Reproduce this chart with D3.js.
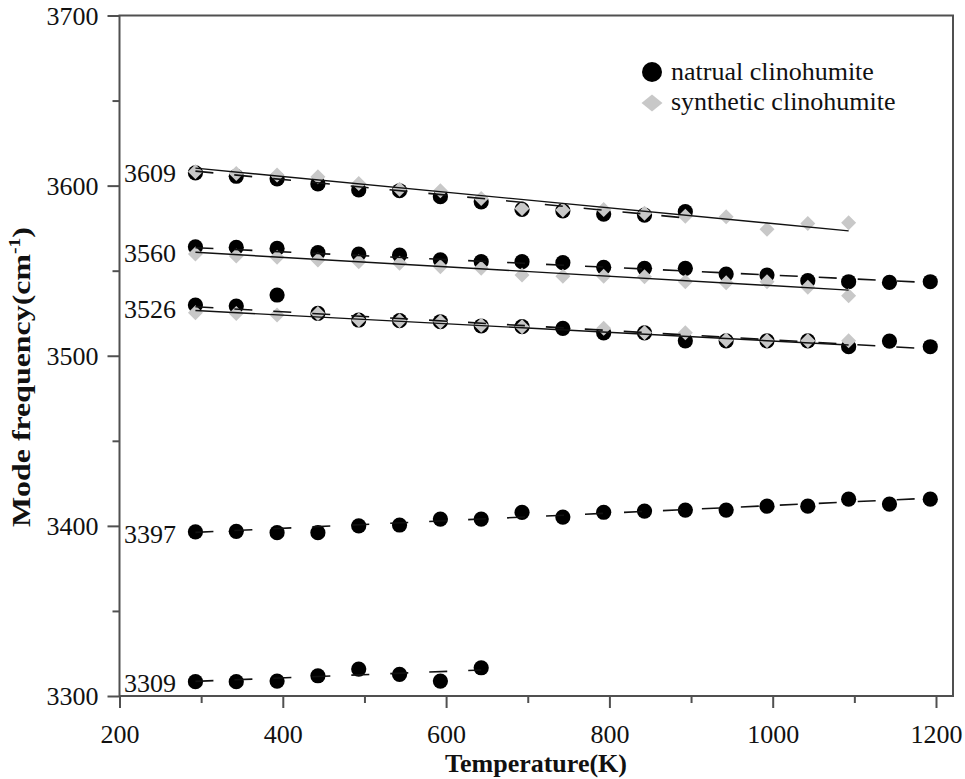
<!DOCTYPE html>
<html>
<head>
<meta charset="utf-8">
<script src="https://cdn.jsdelivr.net/npm/d3@7"></script>
<style>
  body { margin: 0; background: #fff; }
  text { font-family: "Liberation Serif", "Times New Roman", serif; fill: #111; }
</style>
</head>
<body>
<div id="chart"></div>
<script>
// temperatures (K)
const temps = [293, 343, 393, 443, 493, 543, 593, 643, 693, 743, 793, 843, 893, 943, 993, 1043, 1093, 1143, 1193];

// natural clinohumite bands (cm-1)
const nat3609 = [3607.5, 3605.5, 3604, 3601, 3597.5, 3597, 3593.5, 3590.5, 3586, 3585.2, 3583.3, 3582.7, 3584.7];
const nat3560 = [3564, 3563.7, 3563.1, 3560.6, 3559.8, 3559.2, 3556.3, 3555.3, 3555.3, 3554.7, 3552, 3551.4, 3551.4, 3548, 3547.4, 3544.1, 3543.5, 3543.1, 3543.5];
const nat3526 = [3529.8, 3529.2, 3535.7, 3524.9, 3521, 3520.6, 3520, 3517.5, 3517.1, 3516.1, 3513.5, 3513.5, 3508.8, 3508.8, 3508.8, 3508.8, 3505.3, 3508.6, 3505.3];
const nat3397 = [3396.5, 3396.8, 3396, 3396, 3400, 3400.5, 3404, 3404, 3407.9, 3405.2, 3408, 3408.7, 3409.3, 3409.3, 3411.6, 3411.6, 3415.7, 3412.8, 3415.7];
const nat3309 = [3308.4, 3308.4, 3308.8, 3311.9, 3315.8, 3312.7, 3308.8, 3316.6];

// synthetic clinohumite bands (null = no point)
const syn3609 = [3608.2, 3607.2, 3606.2, 3605.2, 3601.3, 3597.8, 3597, 3592.5, 3586.6, 3585.6, 3586, 3583.7, 3582, 3581.7, 3574.3, 3577.8, 3578.2];
const syn3560 = [3559.8, 3558.6, 3557.9, 3556.3, 3555.3, 3554.3, 3552.3, 3551.4, 3547.4, 3546.8, 3546.8, 3546.4, 3543.5, 3542.9, 3543.5, 3540.2, 3535.3];
const syn3526 = [3525.3, 3524.9, 3523.9, 3524.9, 3521, 3520.6, 3520, 3518, 3517.1, null, 3516.1, 3513.5, 3513.5, 3509.2, 3508.8, 3508.8, 3508.8];

// linear fits: [T0, v0, T1, v1]
const natFits = [
  [293, 3608.5, 893, 3581],
  [293, 3563.5, 1193, 3543],
  [293, 3528.8, 1193, 3504],
  [293, 3396.2, 1193, 3416.3],
  [293, 3308.6, 643, 3315.3]
];
const synFits = [
  [293, 3610.3, 1093, 3573.4],
  [293, 3560.8, 1093, 3538.6],
  [293, 3526.6, 1093, 3506.3]
];

// band labels: text and baseline (in cm-1 units)
const bandLabels = ["3609", "3560", "3526", "3397", "3309"];
const bandLabelY = [3602, 3555, 3522.2, 3389.9, 3302.3];

const xTicks = [200, 300, 400, 500, 600, 700, 800, 900, 1000, 1100, 1200];
const yTicks = [3300, 3350, 3400, 3450, 3500, 3550, 3600, 3650, 3700];

const width = 965, height = 779;
const svg = d3.select("#chart").append("svg")
  .attr("width", width)
  .attr("height", height);

const x = d3.scaleLinear().domain([200, 1200]).range([119.5, 936]);
const y = d3.scaleLinear().domain([3300, 3700]).range([696, 15.5]);
const frameRight = 953;
const axisColor = "#505050";

// x axis
const xAxis = svg.append("g")
  .attr("transform", `translate(0,${y(3300)})`)
  .call(d3.axisBottom(x)
    .tickValues(xTicks)
    .tickSize(0)
    .tickFormat(d => d % 200 === 0 ? d : ""));
xAxis.select(".domain").remove();
xAxis.selectAll(".tick").append("line")
  .attr("y1", 0)
  .attr("y2", d => d % 200 === 0 ? 12 : 7)
  .attr("stroke", axisColor)
  .attr("stroke-width", 2);
xAxis.selectAll(".tick text")
  .attr("y", 47)
  .attr("dy", 0)
  .style("font-size", "26px")
  .style("font-family", "Liberation Serif")
  .attr("fill", "#111");

// y axis
const yAxis = svg.append("g")
  .attr("transform", `translate(${x(200)},0)`)
  .call(d3.axisLeft(y)
    .tickValues(yTicks)
    .tickSize(0)
    .tickFormat(d => d % 100 === 0 ? d : ""));
yAxis.select(".domain").remove();
yAxis.selectAll(".tick").append("line")
  .attr("x1", 0)
  .attr("x2", d => d % 100 === 0 ? -12 : -7)
  .attr("stroke", axisColor)
  .attr("stroke-width", 2);
yAxis.selectAll(".tick text")
  .attr("x", -21)
  .attr("dy", "0.33em")
  .style("font-size", "26px")
  .style("font-family", "Liberation Serif")
  .attr("fill", "#111");

// frame
svg.append("path")
  .attr("d", `M${x(200)},${y(3300)}V${y(3700)}H${frameRight}V${y(3300)}H${x(200)}`)
  .attr("fill", "none")
  .attr("stroke", axisColor)
  .attr("stroke-width", 2);

// axis titles
svg.append("text")
  .attr("x", 536)
  .attr("y", 772)
  .attr("text-anchor", "middle")
  .style("font-size", "26px")
  .style("font-weight", "bold")
  .text("Temperature(K)");

// y title is drawn a bit stretched along its baseline, as in the figure
const yTitle = svg.append("text")
  .attr("transform", "translate(30,377) rotate(-90)")
  .attr("text-anchor", "middle")
  .attr("textLength", 300)
  .attr("lengthAdjust", "spacingAndGlyphs")
  .style("font-size", "26px")
  .style("font-weight", "bold");
yTitle.append("tspan").text("Mode frequency(cm");
yTitle.append("tspan").attr("dy", -10).style("font-size", "16px").text("-1");
yTitle.append("tspan").attr("dy", 10).text(")");

// markers
const natSeries = [nat3609, nat3560, nat3526, nat3397, nat3309];
const synSeries = [syn3609, syn3560, syn3526];

const toPoints = vals => vals.map((v, i) => ({ t: temps[i], v: v })).filter(d => d.v !== null);

const gMarks = svg.append("g");
natSeries.forEach(vals => {
  gMarks.selectAll(null)
    .data(toPoints(vals))
    .enter()
    .append("circle")
    .attr("cx", d => x(d.t))
    .attr("cy", d => y(d.v))
    .attr("r", 7.6)
    .attr("fill", "#000");
});

const diamond = (cx, cy, rx, ry) => `M${cx},${cy - ry}L${cx + rx},${cy}L${cx},${cy + ry}L${cx - rx},${cy}Z`;
const grey = "#c8c8c8";
synSeries.forEach(vals => {
  gMarks.selectAll(null)
    .data(toPoints(vals))
    .enter()
    .append("path")
    .attr("d", d => diamond(x(d.t), y(d.v), 7.5, 7.5))
    .attr("fill", grey);
});

// fit lines
svg.selectAll(null)
  .data(synFits)
  .enter()
  .append("line")
  .attr("x1", d => x(d[0]))
  .attr("y1", d => y(d[1]))
  .attr("x2", d => x(d[2]))
  .attr("y2", d => y(d[3]))
  .attr("stroke", "#111")
  .attr("stroke-width", 1.4);

svg.selectAll(null)
  .data(natFits)
  .enter()
  .append("line")
  .attr("x1", d => x(d[0]))
  .attr("y1", d => y(d[1]))
  .attr("x2", d => x(d[2]))
  .attr("y2", d => y(d[3]))
  .attr("stroke", "#111")
  .attr("stroke-width", 1.6)
  .attr("stroke-dasharray", "18,21");

// band labels
svg.selectAll(null)
  .data(bandLabels)
  .enter()
  .append("text")
  .attr("x", 124)
  .attr("y", (d, i) => y(bandLabelY[i]))
  .style("font-size", "26px")
  .text(d => d);

// legend
const legend = svg.append("g");
legend.append("circle")
  .attr("cx", 652)
  .attr("cy", 72)
  .attr("r", 10)
  .attr("fill", "#000");
legend.append("path")
  .attr("d", diamond(652, 103, 10.5, 8.5))
  .attr("fill", grey);
legend.append("text")
  .attr("x", 671)
  .attr("y", 80)
  .style("font-size", "26px")
  .text("natrual clinohumite");
legend.append("text")
  .attr("x", 671)
  .attr("y", 110)
  .style("font-size", "26px")
  .text("synthetic clinohumite");
</script>
</body>
</html>
